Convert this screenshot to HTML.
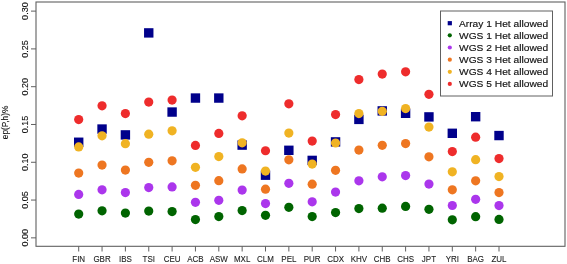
<!DOCTYPE html>
<html><head><meta charset="utf-8"><style>
html,body{margin:0;padding:0;background:#fff;}
body{width:567px;height:264px;overflow:hidden;}
svg{display:block;will-change:transform;font-family:"Liberation Sans",sans-serif;}
</style></head><body>
<svg width="567" height="264" viewBox="0 0 567 264">

<rect x="36" y="2" width="529" height="244.3" fill="none" stroke="#606060" stroke-width="1.1"/>
<line x1="31" y1="237.85" x2="36" y2="237.85" stroke="#606060" stroke-width="1"/>
<text x="0" y="0" transform="translate(28.3 237.85) rotate(-90)" text-anchor="middle" font-size="9" fill="#111" stroke="#111" stroke-width="0.12">0.00</text>
<line x1="31" y1="200.06" x2="36" y2="200.06" stroke="#606060" stroke-width="1"/>
<text x="0" y="0" transform="translate(28.3 200.06) rotate(-90)" text-anchor="middle" font-size="9" fill="#111" stroke="#111" stroke-width="0.12">0.05</text>
<line x1="31" y1="162.27" x2="36" y2="162.27" stroke="#606060" stroke-width="1"/>
<text x="0" y="0" transform="translate(28.3 162.27) rotate(-90)" text-anchor="middle" font-size="9" fill="#111" stroke="#111" stroke-width="0.12">0.10</text>
<line x1="31" y1="124.48" x2="36" y2="124.48" stroke="#606060" stroke-width="1"/>
<text x="0" y="0" transform="translate(28.3 124.48) rotate(-90)" text-anchor="middle" font-size="9" fill="#111" stroke="#111" stroke-width="0.12">0.15</text>
<line x1="31" y1="86.69" x2="36" y2="86.69" stroke="#606060" stroke-width="1"/>
<text x="0" y="0" transform="translate(28.3 86.69) rotate(-90)" text-anchor="middle" font-size="9" fill="#111" stroke="#111" stroke-width="0.12">0.20</text>
<line x1="31" y1="48.90" x2="36" y2="48.90" stroke="#606060" stroke-width="1"/>
<text x="0" y="0" transform="translate(28.3 48.90) rotate(-90)" text-anchor="middle" font-size="9" fill="#111" stroke="#111" stroke-width="0.12">0.25</text>
<line x1="31" y1="11.11" x2="36" y2="11.11" stroke="#606060" stroke-width="1"/>
<text x="0" y="0" transform="translate(28.3 11.11) rotate(-90)" text-anchor="middle" font-size="9" fill="#111" stroke="#111" stroke-width="0.12">0.30</text>
<line x1="78.70" y1="246.3" x2="78.70" y2="251.5" stroke="#606060" stroke-width="1"/>
<text transform="translate(78.70 261.6) scale(0.94 1)" text-anchor="middle" font-size="8.5" fill="#222" stroke="#222" stroke-width="0.1">FIN</text>
<line x1="102.05" y1="246.3" x2="102.05" y2="251.5" stroke="#606060" stroke-width="1"/>
<text transform="translate(102.05 261.6) scale(0.94 1)" text-anchor="middle" font-size="8.5" fill="#222" stroke="#222" stroke-width="0.1">GBR</text>
<line x1="125.40" y1="246.3" x2="125.40" y2="251.5" stroke="#606060" stroke-width="1"/>
<text transform="translate(125.40 261.6) scale(0.94 1)" text-anchor="middle" font-size="8.5" fill="#222" stroke="#222" stroke-width="0.1">IBS</text>
<line x1="148.75" y1="246.3" x2="148.75" y2="251.5" stroke="#606060" stroke-width="1"/>
<text transform="translate(148.75 261.6) scale(0.94 1)" text-anchor="middle" font-size="8.5" fill="#222" stroke="#222" stroke-width="0.1">TSI</text>
<line x1="172.10" y1="246.3" x2="172.10" y2="251.5" stroke="#606060" stroke-width="1"/>
<text transform="translate(172.10 261.6) scale(0.94 1)" text-anchor="middle" font-size="8.5" fill="#222" stroke="#222" stroke-width="0.1">CEU</text>
<line x1="195.45" y1="246.3" x2="195.45" y2="251.5" stroke="#606060" stroke-width="1"/>
<text transform="translate(195.45 261.6) scale(0.94 1)" text-anchor="middle" font-size="8.5" fill="#222" stroke="#222" stroke-width="0.1">ACB</text>
<line x1="218.80" y1="246.3" x2="218.80" y2="251.5" stroke="#606060" stroke-width="1"/>
<text transform="translate(218.80 261.6) scale(0.94 1)" text-anchor="middle" font-size="8.5" fill="#222" stroke="#222" stroke-width="0.1">ASW</text>
<line x1="242.15" y1="246.3" x2="242.15" y2="251.5" stroke="#606060" stroke-width="1"/>
<text transform="translate(242.15 261.6) scale(0.94 1)" text-anchor="middle" font-size="8.5" fill="#222" stroke="#222" stroke-width="0.1">MXL</text>
<line x1="265.50" y1="246.3" x2="265.50" y2="251.5" stroke="#606060" stroke-width="1"/>
<text transform="translate(265.50 261.6) scale(0.94 1)" text-anchor="middle" font-size="8.5" fill="#222" stroke="#222" stroke-width="0.1">CLM</text>
<line x1="288.85" y1="246.3" x2="288.85" y2="251.5" stroke="#606060" stroke-width="1"/>
<text transform="translate(288.85 261.6) scale(0.94 1)" text-anchor="middle" font-size="8.5" fill="#222" stroke="#222" stroke-width="0.1">PEL</text>
<line x1="312.20" y1="246.3" x2="312.20" y2="251.5" stroke="#606060" stroke-width="1"/>
<text transform="translate(312.20 261.6) scale(0.94 1)" text-anchor="middle" font-size="8.5" fill="#222" stroke="#222" stroke-width="0.1">PUR</text>
<line x1="335.55" y1="246.3" x2="335.55" y2="251.5" stroke="#606060" stroke-width="1"/>
<text transform="translate(335.55 261.6) scale(0.94 1)" text-anchor="middle" font-size="8.5" fill="#222" stroke="#222" stroke-width="0.1">CDX</text>
<line x1="358.90" y1="246.3" x2="358.90" y2="251.5" stroke="#606060" stroke-width="1"/>
<text transform="translate(358.90 261.6) scale(0.94 1)" text-anchor="middle" font-size="8.5" fill="#222" stroke="#222" stroke-width="0.1">KHV</text>
<line x1="382.25" y1="246.3" x2="382.25" y2="251.5" stroke="#606060" stroke-width="1"/>
<text transform="translate(382.25 261.6) scale(0.94 1)" text-anchor="middle" font-size="8.5" fill="#222" stroke="#222" stroke-width="0.1">CHB</text>
<line x1="405.60" y1="246.3" x2="405.60" y2="251.5" stroke="#606060" stroke-width="1"/>
<text transform="translate(405.60 261.6) scale(0.94 1)" text-anchor="middle" font-size="8.5" fill="#222" stroke="#222" stroke-width="0.1">CHS</text>
<line x1="428.95" y1="246.3" x2="428.95" y2="251.5" stroke="#606060" stroke-width="1"/>
<text transform="translate(428.95 261.6) scale(0.94 1)" text-anchor="middle" font-size="8.5" fill="#222" stroke="#222" stroke-width="0.1">JPT</text>
<line x1="452.30" y1="246.3" x2="452.30" y2="251.5" stroke="#606060" stroke-width="1"/>
<text transform="translate(452.30 261.6) scale(0.94 1)" text-anchor="middle" font-size="8.5" fill="#222" stroke="#222" stroke-width="0.1">YRI</text>
<line x1="475.65" y1="246.3" x2="475.65" y2="251.5" stroke="#606060" stroke-width="1"/>
<text transform="translate(475.65 261.6) scale(0.94 1)" text-anchor="middle" font-size="8.5" fill="#222" stroke="#222" stroke-width="0.1">BAG</text>
<line x1="499.00" y1="246.3" x2="499.00" y2="251.5" stroke="#606060" stroke-width="1"/>
<text transform="translate(499.00 261.6) scale(0.94 1)" text-anchor="middle" font-size="8.5" fill="#222" stroke="#222" stroke-width="0.1">ZUL</text>
<text x="0" y="0" transform="translate(7.5 122.4) rotate(-90)" text-anchor="middle" font-size="8.3" fill="#111" stroke="#111" stroke-width="0.12">ep(P,h)%</text>
<rect x="74.00" y="137.55" width="9.4" height="9.4" fill="#00008b"/>
<rect x="97.35" y="124.35" width="9.4" height="9.4" fill="#00008b"/>
<rect x="120.70" y="130.20" width="9.4" height="9.4" fill="#00008b"/>
<rect x="144.05" y="28.20" width="9.4" height="9.4" fill="#00008b"/>
<rect x="167.40" y="107.35" width="9.4" height="9.4" fill="#00008b"/>
<rect x="190.75" y="93.35" width="9.4" height="9.4" fill="#00008b"/>
<rect x="214.10" y="93.35" width="9.4" height="9.4" fill="#00008b"/>
<rect x="237.45" y="140.40" width="9.4" height="9.4" fill="#00008b"/>
<rect x="260.80" y="170.50" width="9.4" height="9.4" fill="#00008b"/>
<rect x="284.15" y="145.60" width="9.4" height="9.4" fill="#00008b"/>
<rect x="307.50" y="155.70" width="9.4" height="9.4" fill="#00008b"/>
<rect x="330.85" y="137.20" width="9.4" height="9.4" fill="#00008b"/>
<rect x="354.20" y="114.70" width="9.4" height="9.4" fill="#00008b"/>
<rect x="377.55" y="106.20" width="9.4" height="9.4" fill="#00008b"/>
<rect x="400.90" y="108.60" width="9.4" height="9.4" fill="#00008b"/>
<rect x="424.25" y="112.20" width="9.4" height="9.4" fill="#00008b"/>
<rect x="447.60" y="128.60" width="9.4" height="9.4" fill="#00008b"/>
<rect x="470.95" y="112.00" width="9.4" height="9.4" fill="#00008b"/>
<rect x="494.30" y="130.85" width="9.4" height="9.4" fill="#00008b"/>
<circle cx="78.70" cy="214.05" r="4.6" fill="#006400"/>
<circle cx="102.05" cy="210.80" r="4.6" fill="#006400"/>
<circle cx="125.40" cy="213.05" r="4.6" fill="#006400"/>
<circle cx="148.75" cy="211.05" r="4.6" fill="#006400"/>
<circle cx="172.10" cy="211.55" r="4.6" fill="#006400"/>
<circle cx="195.45" cy="219.55" r="4.6" fill="#006400"/>
<circle cx="218.80" cy="216.55" r="4.6" fill="#006400"/>
<circle cx="242.15" cy="210.55" r="4.6" fill="#006400"/>
<circle cx="265.50" cy="215.30" r="4.6" fill="#006400"/>
<circle cx="288.85" cy="207.30" r="4.6" fill="#006400"/>
<circle cx="312.20" cy="216.55" r="4.6" fill="#006400"/>
<circle cx="335.55" cy="212.55" r="4.6" fill="#006400"/>
<circle cx="358.90" cy="208.60" r="4.6" fill="#006400"/>
<circle cx="382.25" cy="208.20" r="4.6" fill="#006400"/>
<circle cx="405.60" cy="206.40" r="4.6" fill="#006400"/>
<circle cx="428.95" cy="209.30" r="4.6" fill="#006400"/>
<circle cx="452.30" cy="219.80" r="4.6" fill="#006400"/>
<circle cx="475.65" cy="216.65" r="4.6" fill="#006400"/>
<circle cx="499.00" cy="219.40" r="4.6" fill="#006400"/>
<circle cx="78.70" cy="194.40" r="4.6" fill="#ab36ec"/>
<circle cx="102.05" cy="189.80" r="4.6" fill="#ab36ec"/>
<circle cx="125.40" cy="192.55" r="4.6" fill="#ab36ec"/>
<circle cx="148.75" cy="187.55" r="4.6" fill="#ab36ec"/>
<circle cx="172.10" cy="186.90" r="4.6" fill="#ab36ec"/>
<circle cx="195.45" cy="202.30" r="4.6" fill="#ab36ec"/>
<circle cx="218.80" cy="200.30" r="4.6" fill="#ab36ec"/>
<circle cx="242.15" cy="190.05" r="4.6" fill="#ab36ec"/>
<circle cx="265.50" cy="203.55" r="4.6" fill="#ab36ec"/>
<circle cx="288.85" cy="183.30" r="4.6" fill="#ab36ec"/>
<circle cx="312.20" cy="201.80" r="4.6" fill="#ab36ec"/>
<circle cx="335.55" cy="192.05" r="4.6" fill="#ab36ec"/>
<circle cx="358.90" cy="180.80" r="4.6" fill="#ab36ec"/>
<circle cx="382.25" cy="176.80" r="4.6" fill="#ab36ec"/>
<circle cx="405.60" cy="175.55" r="4.6" fill="#ab36ec"/>
<circle cx="428.95" cy="184.05" r="4.6" fill="#ab36ec"/>
<circle cx="452.30" cy="205.50" r="4.6" fill="#ab36ec"/>
<circle cx="475.65" cy="199.30" r="4.6" fill="#ab36ec"/>
<circle cx="499.00" cy="205.55" r="4.6" fill="#ab36ec"/>
<circle cx="78.70" cy="173.05" r="4.6" fill="#ee7621"/>
<circle cx="102.05" cy="165.05" r="4.6" fill="#ee7621"/>
<circle cx="125.40" cy="170.05" r="4.6" fill="#ee7621"/>
<circle cx="148.75" cy="162.30" r="4.6" fill="#ee7621"/>
<circle cx="172.10" cy="160.80" r="4.6" fill="#ee7621"/>
<circle cx="195.45" cy="185.30" r="4.6" fill="#ee7621"/>
<circle cx="218.80" cy="180.70" r="4.6" fill="#ee7621"/>
<circle cx="242.15" cy="168.90" r="4.6" fill="#ee7621"/>
<circle cx="265.50" cy="189.20" r="4.6" fill="#ee7621"/>
<circle cx="288.85" cy="159.80" r="4.6" fill="#ee7621"/>
<circle cx="312.20" cy="184.20" r="4.6" fill="#ee7621"/>
<circle cx="335.55" cy="170.30" r="4.6" fill="#ee7621"/>
<circle cx="358.90" cy="150.05" r="4.6" fill="#ee7621"/>
<circle cx="382.25" cy="145.30" r="4.6" fill="#ee7621"/>
<circle cx="405.60" cy="143.55" r="4.6" fill="#ee7621"/>
<circle cx="428.95" cy="156.80" r="4.6" fill="#ee7621"/>
<circle cx="452.30" cy="189.80" r="4.6" fill="#ee7621"/>
<circle cx="475.65" cy="180.80" r="4.6" fill="#ee7621"/>
<circle cx="499.00" cy="192.55" r="4.6" fill="#ee7621"/>
<circle cx="78.70" cy="146.90" r="4.6" fill="#f0b323"/>
<circle cx="102.05" cy="135.80" r="4.6" fill="#f0b323"/>
<circle cx="125.40" cy="143.70" r="4.6" fill="#f0b323"/>
<circle cx="148.75" cy="134.20" r="4.6" fill="#f0b323"/>
<circle cx="172.10" cy="130.80" r="4.6" fill="#f0b323"/>
<circle cx="195.45" cy="167.30" r="4.6" fill="#f0b323"/>
<circle cx="218.80" cy="156.55" r="4.6" fill="#f0b323"/>
<circle cx="242.15" cy="142.80" r="4.6" fill="#f0b323"/>
<circle cx="265.50" cy="171.10" r="4.6" fill="#f0b323"/>
<circle cx="288.85" cy="133.05" r="4.6" fill="#f0b323"/>
<circle cx="312.20" cy="164.05" r="4.6" fill="#f0b323"/>
<circle cx="335.55" cy="143.00" r="4.6" fill="#f0b323"/>
<circle cx="358.90" cy="113.60" r="4.6" fill="#f0b323"/>
<circle cx="382.25" cy="111.30" r="4.6" fill="#f0b323"/>
<circle cx="405.60" cy="108.60" r="4.6" fill="#f0b323"/>
<circle cx="428.95" cy="127.05" r="4.6" fill="#f0b323"/>
<circle cx="452.30" cy="171.80" r="4.6" fill="#f0b323"/>
<circle cx="475.65" cy="159.70" r="4.6" fill="#f0b323"/>
<circle cx="499.00" cy="176.55" r="4.6" fill="#f0b323"/>
<circle cx="78.70" cy="119.55" r="4.6" fill="#ee2c2c"/>
<circle cx="102.05" cy="105.80" r="4.6" fill="#ee2c2c"/>
<circle cx="125.40" cy="113.55" r="4.6" fill="#ee2c2c"/>
<circle cx="148.75" cy="102.05" r="4.6" fill="#ee2c2c"/>
<circle cx="172.10" cy="100.05" r="4.6" fill="#ee2c2c"/>
<circle cx="195.45" cy="145.40" r="4.6" fill="#ee2c2c"/>
<circle cx="218.80" cy="133.40" r="4.6" fill="#ee2c2c"/>
<circle cx="242.15" cy="115.80" r="4.6" fill="#ee2c2c"/>
<circle cx="265.50" cy="150.75" r="4.6" fill="#ee2c2c"/>
<circle cx="288.85" cy="103.80" r="4.6" fill="#ee2c2c"/>
<circle cx="312.20" cy="141.10" r="4.6" fill="#ee2c2c"/>
<circle cx="335.55" cy="114.55" r="4.6" fill="#ee2c2c"/>
<circle cx="358.90" cy="79.55" r="4.6" fill="#ee2c2c"/>
<circle cx="382.25" cy="74.05" r="4.6" fill="#ee2c2c"/>
<circle cx="405.60" cy="71.80" r="4.6" fill="#ee2c2c"/>
<circle cx="428.95" cy="94.30" r="4.6" fill="#ee2c2c"/>
<circle cx="452.30" cy="151.55" r="4.6" fill="#ee2c2c"/>
<circle cx="475.65" cy="137.20" r="4.6" fill="#ee2c2c"/>
<circle cx="499.00" cy="158.55" r="4.6" fill="#ee2c2c"/>
<rect x="440.5" y="11" width="112" height="85" fill="#fff" stroke="#606060" stroke-width="1"/>
<rect x="447.70" y="21.10" width="4.2" height="4.2" fill="#00008b"/>
<text transform="translate(459 26.70) scale(1.065 1)" font-size="9.6" fill="#111" stroke="#111" stroke-width="0.15">Array 1 Het allowed</text>
<circle cx="449.8" cy="35.35" r="2.1" fill="#006400"/>
<text transform="translate(459 38.85) scale(1.065 1)" font-size="9.6" fill="#111" stroke="#111" stroke-width="0.15">WGS 1 Het allowed</text>
<circle cx="449.8" cy="47.50" r="2.1" fill="#ab36ec"/>
<text transform="translate(459 51.00) scale(1.065 1)" font-size="9.6" fill="#111" stroke="#111" stroke-width="0.15">WGS 2 Het allowed</text>
<circle cx="449.8" cy="59.65" r="2.1" fill="#ee7621"/>
<text transform="translate(459 63.15) scale(1.065 1)" font-size="9.6" fill="#111" stroke="#111" stroke-width="0.15">WGS 3 Het allowed</text>
<circle cx="449.8" cy="71.80" r="2.1" fill="#f0b323"/>
<text transform="translate(459 75.30) scale(1.065 1)" font-size="9.6" fill="#111" stroke="#111" stroke-width="0.15">WGS 4 Het allowed</text>
<circle cx="449.8" cy="83.95" r="2.1" fill="#ee2c2c"/>
<text transform="translate(459 87.45) scale(1.065 1)" font-size="9.6" fill="#111" stroke="#111" stroke-width="0.15">WGS 5 Het allowed</text>
</svg>
</body></html>
